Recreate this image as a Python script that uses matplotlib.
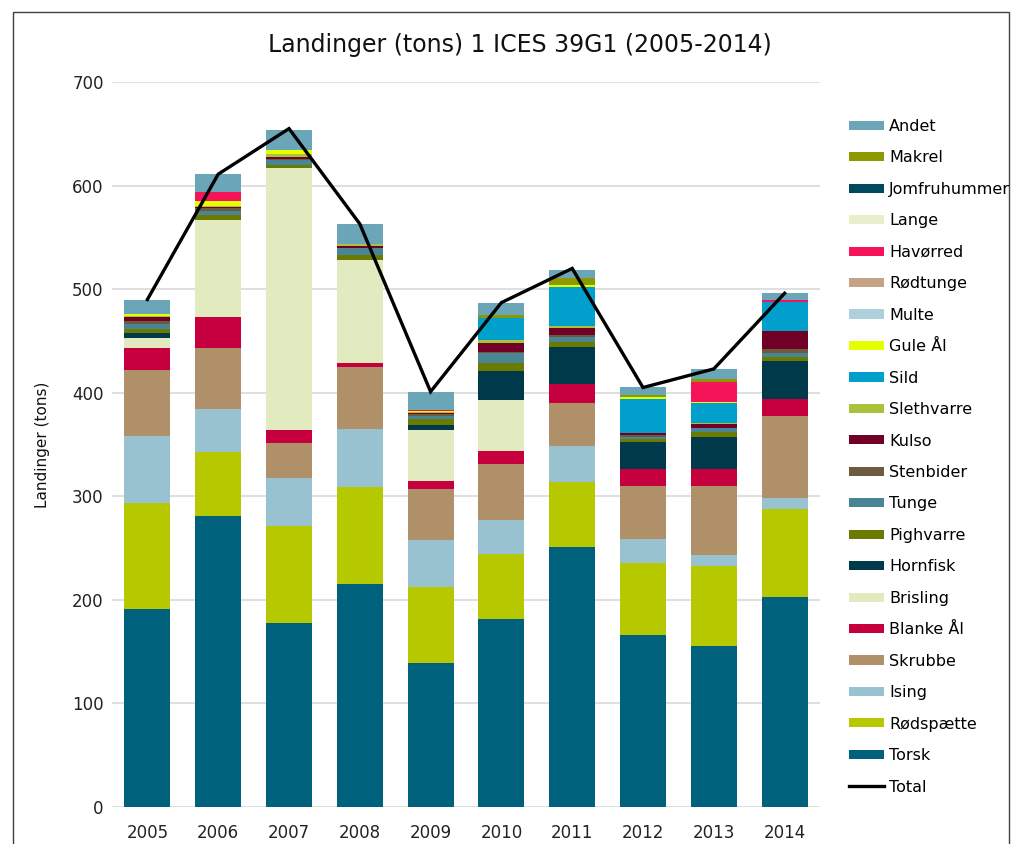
import matplotlib
matplotlib.use("Agg")
import matplotlib.pyplot as plt
import numpy as np
from matplotlib.patches import Rectangle
from matplotlib.lines import Line2D

plt.rcParams['font.family'] = ['DejaVu Sans']

years = ["2005", "2006", "2007", "2008", "2009", "2010", "2011", "2012", "2013", "2014"]

# Landings per species (tons), stacked bottom to top
torsk        = [191, 281, 178, 215, 139, 181.5, 251, 166, 155, 203]
rodspaette   = [103, 62, 93, 94, 73, 62.5, 63, 69.5, 78, 84.5]
ising        = [64, 41, 47, 56, 46, 33, 34.5, 23.5, 10, 11]
skrubbe      = [64, 59, 33, 60, 49, 54, 41.5, 51, 67, 79]
blanke_aal   = [21, 30, 13, 3.5, 8, 13, 18, 16, 16.5, 16]
brisling     = [10, 94, 253, 100, 49, 49, 0, 0, 0, 0]
hornfisk     = [5, 0, 0, 0, 5, 28, 36, 26.5, 30.5, 37]
pighvarre    = [4, 5, 3, 4, 5.5, 8, 5, 2.5, 5.5, 4]
tunge        = [4, 3, 4.5, 7, 3, 9, 4.5, 2.5, 3, 4]
stenbider    = [3, 3, 1, 0.5, 1.5, 1.5, 2, 1.2, 0.5, 4]
kulso        = [4, 1.5, 2.5, 2, 1.5, 8.5, 7, 2.6, 3.5, 17.5]
slethvarre   = [1, 1, 2.5, 2, 1, 2.8, 2, 0, 1.5, 0]
sild         = [0, 0, 0, 0, 0, 21.8, 38, 33, 19.5, 28]
gule_aal     = [2, 5, 4, 0, 1, 0, 1.7, 1.7, 0.5, 0]
multe        = [0, 0, 0, 0, 0, 0, 0, 0, 0, 0]
rodtunge     = [0, 0, 0, 0, 0, 0, 0, 0, 0, 0]
havorred     = [0, 8, 0, 0, 1, 0, 0, 0, 19, 1.5]
lange        = [0, 0, 0, 0, 0, 0, 0, 0, 0, 0]
jomfruhummer = [0, 0, 0, 0, 0, 0, 0, 0, 0, 0]
makrel       = [0, 0, 0, 0, 0, 2, 6.5, 1.6, 3.5, 0]
andet        = [14, 18, 19.6, 19, 17.5, 12.4, 8, 7.6, 9.5, 6.5]

total = [490, 611, 655, 563, 401, 487, 520, 405, 423, 496]

series = [
    ("Torsk", torsk, "#00617C"),
    ("Rødspætte", rodspaette, "#B5C800"),
    ("Ising", ising, "#98C2D0"),
    ("Skrubbe", skrubbe, "#B09068"),
    ("Blanke Ål", blanke_aal, "#C6003E"),
    ("Brisling", brisling, "#E2EABF"),
    ("Hornfisk", hornfisk, "#003A4A"),
    ("Pighvarre", pighvarre, "#6B7A00"),
    ("Tunge", tunge, "#4A8596"),
    ("Stenbider", stenbider, "#6E5A3E"),
    ("Kulso", kulso, "#700025"),
    ("Slethvarre", slethvarre, "#A9C23C"),
    ("Sild", sild, "#009FCC"),
    ("Gule Ål", gule_aal, "#E6FF00"),
    ("Multe", multe, "#ADD0DC"),
    ("Rødtunge", rodtunge, "#C4A484"),
    ("Havørred", havorred, "#F5135A"),
    ("Lange", lange, "#E8EFCD"),
    ("Jomfruhummer", jomfruhummer, "#00495E"),
    ("Makrel", makrel, "#8C9A00"),
    ("Andet", andet, "#6BA5B8"),
]

fig = plt.figure(figsize=(10.19, 8.44), dpi=100)
ax = fig.add_axes([112 / 1019, 37 / 844, 708 / 1019, 725 / 844])

x = np.arange(len(years))
bottom = np.zeros(len(years))
handles = []
for name, vals, col in series:
    v = np.array(vals, dtype=float)
    ax.bar(x, v, width=0.65, bottom=bottom, color=col, linewidth=0, zorder=2)
    bottom += v
    handles.append(Rectangle((0, 0), 1, 1, facecolor=col, edgecolor='none', label=name))

ax.plot(x, total, color="black", linewidth=2.4, zorder=3, solid_joinstyle='miter')

ax.set_xlim(-0.5, len(years) - 0.5)
ax.set_ylim(0, 700)
ax.set_yticks(range(0, 701, 100))
ax.set_xticks(x)
ax.set_xticklabels(years)
ax.yaxis.grid(True, color="#D9D9D9", linewidth=1.2, zorder=0)
ax.set_axisbelow(True)
for s in ax.spines.values():
    s.set_visible(False)
ax.tick_params(axis='both', length=0, labelsize=12, colors="#222222")
ax.tick_params(axis='y', pad=6)
ax.tick_params(axis='x', pad=12)
ax.set_ylabel("Landinger (tons)", fontsize=11, labelpad=16, color="#111111")

fig.text(520 / 1019, 1 - 45 / 844, "Landinger (tons) 1 ICES 39G1 (2005-2014)",
         ha="center", va="center", fontsize=17, color="#111111")

leg_handles = handles[::-1] + [Line2D([0], [0], color="black", linewidth=2.4, label="Total")]
fig.legend(handles=leg_handles, loc="upper left",
           bbox_to_anchor=(849 / 1019, 1 - 119 / 844), frameon=False,
           fontsize=11.5, handlelength=2.2, handleheight=0.5, handletextpad=0.3,
           labelspacing=1.03, borderpad=0, borderaxespad=0)

# outer frame
fig.add_artist(Rectangle((13 / 1019, -0.05), (1009 - 13) / 1019, 1.05 - 12 / 844,
                         transform=fig.transFigure, fill=False,
                         edgecolor="#404040", linewidth=1.0))

fig.savefig("out.png", dpi=100)
